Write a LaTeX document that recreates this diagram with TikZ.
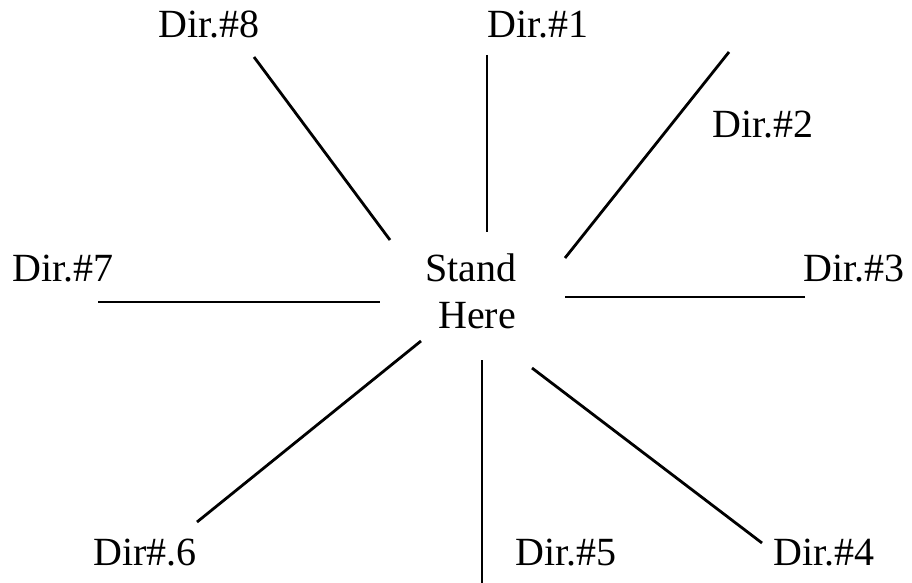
\documentclass[tikz,border=0pt]{standalone}
\usepackage{fontspec}
\setmainfont{Liberation Serif}
\begin{document}
\begin{tikzpicture}[x=1pt,y=-1pt,
  lbl/.style={anchor=base west,inner sep=0pt,font=\fontsize{40}{46}\selectfont},
  ray/.style={line width=2.8pt,black}]
\useasboundingbox (0,0) rectangle (912,583);
% labels
\node[lbl] (d8) at (158,38) {Dir.\#8};
\node[lbl] (d1) at (487,38) {Dir.\#1};
\node[lbl] (d2) at (712,137) {Dir.\#2};
\node[lbl] (d7) at (12,281) {Dir.\#7};
\node[lbl] (d3) at (803,281) {Dir.\#3};
\node[lbl] (st) at (425,281) {Stand};
\node[lbl] (he) at (438,328) {Here};
\node[lbl] (d6) at (93,565) {Dir\#.6};
\node[lbl] (d5) at (515,565) {Dir.\#5};
\node[lbl] (d4) at (773,565) {Dir.\#4};
% ray endpoints
\coordinate (a1) at (487,55);  \coordinate (b1) at (487,232);
\coordinate (a2) at (729,52);  \coordinate (b2) at (565,258);
\coordinate (a3) at (805,297); \coordinate (b3) at (565,297);
\coordinate (a4) at (762,543); \coordinate (b4) at (532,368);
\coordinate (a5) at (482,583); \coordinate (b5) at (482,360);
\coordinate (a6) at (197,522); \coordinate (b6) at (421,341);
\coordinate (a7) at (98,302);  \coordinate (b7) at (380,302);
\coordinate (a8) at (254,57);  \coordinate (b8) at (390,240);
\foreach \i in {1,...,8} \draw[ray] (a\i) -- (b\i);
\end{tikzpicture}
\end{document}
